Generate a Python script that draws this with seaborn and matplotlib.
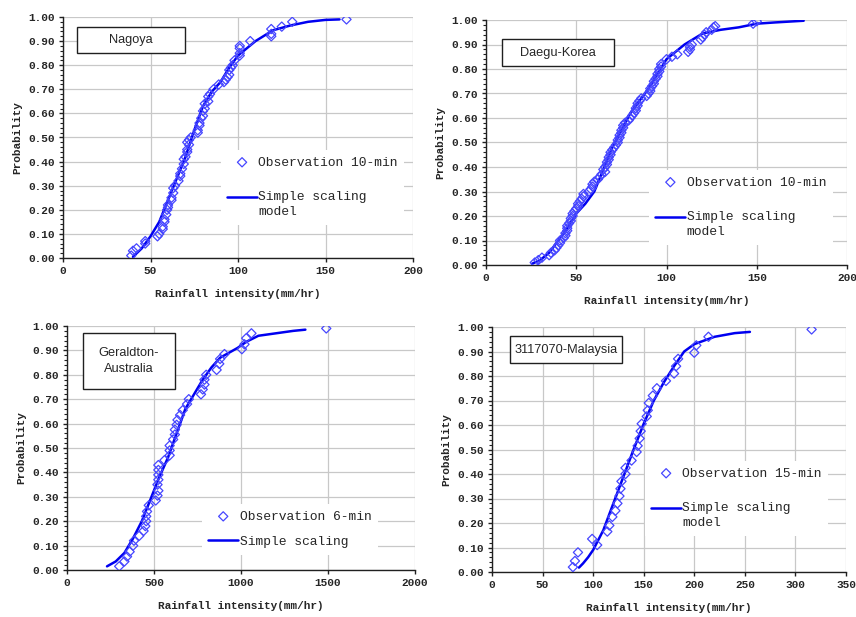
import numpy as np
import pandas as pd
import seaborn as sns
import matplotlib.pyplot as plt
from matplotlib.patches import Rectangle
from matplotlib.ticker import MultipleLocator, FormatStrFormatter
from matplotlib.legend_handler import HandlerLine2D

# ---- Nagoya (10-min) ----
nag_obs_x = [39, 40, 42, 47, 47, 54, 55, 57, 57, 58, 58, 59, 59.5, 60, 60, 62, 62, 63, 63, 64,
             66, 67, 67, 68, 69, 69, 70, 71, 71, 72, 71, 72, 73, 77, 77, 78, 78, 79, 80, 80,
             81, 81, 83, 83, 84, 86, 89, 92, 93, 94, 95, 95, 96, 97, 98, 101, 101, 101, 101, 107,
             119, 119, 119, 125, 131, 162]
nag_obs_p = [0.01, 0.03, 0.04, 0.06, 0.07, 0.09, 0.10, 0.12, 0.13, 0.15, 0.16, 0.18, 0.20, 0.21, 0.22,
             0.24, 0.25, 0.27, 0.29, 0.30, 0.32, 0.34, 0.35, 0.37, 0.39, 0.41, 0.42, 0.44, 0.45, 0.47,
             0.48, 0.49, 0.50, 0.52, 0.53, 0.55, 0.56, 0.58, 0.59, 0.61, 0.62, 0.64, 0.65, 0.67, 0.68,
             0.70, 0.72, 0.73, 0.74, 0.75, 0.76, 0.78, 0.79, 0.80, 0.82, 0.84, 0.85, 0.87, 0.88, 0.90,
             0.92, 0.93, 0.95, 0.96, 0.98, 0.99]
nag_mod_x = [40, 45, 50, 55, 60, 65, 70, 75, 80, 85, 90, 95, 100, 105, 110, 120, 130, 140, 150, 158]
nag_mod_p = [0.005, 0.04, 0.09, 0.15, 0.24, 0.33, 0.42, 0.53, 0.63, 0.69, 0.73, 0.79, 0.84, 0.87,
             0.90, 0.945, 0.965, 0.98, 0.988, 0.99]

# ---- Daegu (10-min) ----
dae_obs_x = [27, 29, 31, 35, 36, 38, 39, 40, 41, 41, 43, 44, 44, 45, 45, 45, 46, 47, 47, 48,
             48, 49, 50, 51, 51, 52, 53, 54, 54, 57, 58, 59, 59, 60, 62, 63, 64, 66, 65, 66,
             67, 67, 68, 68, 69, 69, 70, 71, 72, 73, 73, 74, 74, 75, 75, 76, 76, 77, 79, 80,
             81, 82, 83, 83, 84, 84, 85, 86, 89, 90, 91, 91, 92, 93, 93, 94, 95, 95, 96, 96,
             97, 97, 100, 103, 106, 112, 113, 113, 114, 119, 120, 121, 122, 125, 126, 127, 148, 150]
dae_obs_p = [0.01, 0.02, 0.03, 0.04, 0.05, 0.06, 0.07, 0.08, 0.09, 0.10, 0.11, 0.12, 0.13, 0.14, 0.15,
             0.16, 0.17, 0.18, 0.19, 0.20, 0.21, 0.22, 0.23, 0.24, 0.25, 0.26, 0.27, 0.28, 0.29, 0.30,
             0.31, 0.32, 0.33, 0.34, 0.35, 0.36, 0.37, 0.38, 0.39, 0.40, 0.41, 0.42, 0.43, 0.44, 0.45,
             0.46, 0.47, 0.48, 0.49, 0.50, 0.51, 0.52, 0.53, 0.54, 0.55, 0.56, 0.57, 0.58, 0.59, 0.60,
             0.61, 0.62, 0.63, 0.64, 0.65, 0.66, 0.67, 0.68, 0.69, 0.70, 0.71, 0.72, 0.73, 0.74, 0.75,
             0.76, 0.77, 0.78, 0.79, 0.80, 0.81, 0.82, 0.84, 0.85, 0.86, 0.87, 0.88, 0.89, 0.90, 0.92,
             0.93, 0.94, 0.95, 0.96, 0.97, 0.975, 0.985, 0.995]
dae_mod_x = [25.5, 30, 35, 40, 45, 50, 55, 60, 65, 70, 75, 80, 85, 90, 95, 100, 110, 120, 130, 140,
             150, 160, 176]
dae_mod_p = [0.005, 0.02, 0.05, 0.10, 0.15, 0.21, 0.25, 0.30, 0.39, 0.48, 0.55, 0.62, 0.67, 0.72,
             0.78, 0.84, 0.90, 0.945, 0.96, 0.97, 0.985, 0.99, 0.997]

# ---- Geraldton (6-min) ----
ger_obs_x = [300, 330, 345, 360, 380, 385, 415, 440, 450, 455, 455, 460, 470, 510, 520, 525, 520,
             525, 525, 525, 525, 560, 590, 590, 590, 610, 620, 620, 630, 635, 650, 665, 690, 700,
             770, 780, 790, 790, 800, 860, 875, 880, 905, 1005, 1020, 1030, 1060, 1490]
ger_obs_p = [0.015, 0.035, 0.055, 0.075, 0.10, 0.12, 0.14, 0.16, 0.18, 0.20, 0.22, 0.24, 0.265,
             0.285, 0.305, 0.325, 0.35, 0.37, 0.39, 0.41, 0.43, 0.45, 0.47, 0.49, 0.51, 0.535, 0.555,
             0.575, 0.595, 0.615, 0.635, 0.655, 0.68, 0.70, 0.72, 0.74, 0.76, 0.78, 0.80, 0.82, 0.845,
             0.865, 0.885, 0.905, 0.925, 0.95, 0.97, 0.99]
ger_mod_x = [230, 280, 330, 380, 430, 480, 530, 580, 630, 680, 730, 780, 830, 880, 930, 980, 1030,
             1100, 1200, 1300, 1370]
ger_mod_p = [0.015, 0.035, 0.07, 0.13, 0.20, 0.29, 0.38, 0.46, 0.56, 0.66, 0.72, 0.78, 0.83, 0.87,
             0.89, 0.91, 0.935, 0.96, 0.97, 0.98, 0.985]

# ---- Malaysia 3117070 (15-min) ----
mal_obs_x = [80, 82, 85, 99, 104, 114, 116, 119, 122, 124, 126, 127, 128, 132, 132, 138, 143, 144,
             146, 147, 148, 153, 154, 155, 159, 163, 172, 180, 182, 184, 200, 202, 214, 316]
mal_obs_p = [0.02, 0.045, 0.08, 0.135, 0.11, 0.165, 0.19, 0.225, 0.25, 0.28, 0.31, 0.34, 0.37, 0.40,
             0.425, 0.455, 0.49, 0.515, 0.545, 0.575, 0.605, 0.635, 0.66, 0.69, 0.72, 0.75, 0.78,
             0.81, 0.84, 0.87, 0.895, 0.925, 0.96, 0.99]
mal_mod_x = [86, 90, 95, 100, 110, 120, 130, 140, 150, 160, 170, 180, 190, 200, 220, 240, 255]
mal_mod_p = [0.018, 0.035, 0.06, 0.09, 0.17, 0.28, 0.39, 0.50, 0.605, 0.70, 0.775, 0.84, 0.90, 0.93,
             0.96, 0.975, 0.98]

panels = [
    dict(name="Nagoya", obs=(nag_obs_x, nag_obs_p), mod=(nag_mod_x, nag_mod_p),
         obs_label="Observation 10-min", mod_label="Simple scaling\nmodel",
         xmax=200, xstep=50, rect=[63, 17, 413, 258],
         box=(0.04, 0.85, 0.309, 0.108), leg=(0.45, 0.448)),
    dict(name="Daegu-Korea", obs=(dae_obs_x, dae_obs_p), mod=(dae_mod_x, dae_mod_p),
         obs_label="Observation 10-min", mod_label="Simple scaling\nmodel",
         xmax=200, xstep=50, rect=[486, 20, 847, 265],
         box=(0.044, 0.812, 0.311, 0.11), leg=(0.451, 0.388)),
    dict(name="Geraldton-\nAustralia", obs=(ger_obs_x, ger_obs_p), mod=(ger_mod_x, ger_mod_p),
         obs_label="Observation 6-min", mod_label="Simple scaling",
         xmax=2000, xstep=500, rect=[67, 326, 415, 570],
         box=(0.046, 0.742, 0.264, 0.229), leg=(0.387, 0.27)),
    dict(name="3117070-Malaysia", obs=(mal_obs_x, mal_obs_p), mod=(mal_mod_x, mal_mod_p),
         obs_label="Observation 15-min", mod_label="Simple scaling\nmodel",
         xmax=350, xstep=50, rect=[492, 327, 846, 572],
         box=(0.051, 0.853, 0.316, 0.11), leg=(0.431, 0.453)),
]


class FirstLineHandler(HandlerLine2D):
    # put the legend line level with the first text line of a two-line label
    def create_artists(self, legend, orig_handle, xdescent, ydescent, width, height,
                       fontsize, trans):
        arts = super().create_artists(legend, orig_handle, xdescent, ydescent, width,
                                      height, fontsize, trans)
        for a in arts:
            a.set_ydata([y + 0.58 * fontsize for y in a.get_ydata()])
        return arts


sns.set_style("white")
plt.rcParams['font.family'] = ['Liberation Mono', 'DejaVu Sans Mono']

W, H = 856, 617
fig = plt.figure(figsize=(W / 100, H / 100), dpi=100)

for p in panels:
    l, t, r, b = p["rect"]
    ax = fig.add_axes([l / W, (H - b) / H, (r - l) / W, (b - t) / H])

    obs = pd.DataFrame({"x": p["obs"][0], "p": p["obs"][1]})
    mod = pd.DataFrame({"x": p["mod"][0], "p": p["mod"][1]})
    sns.lineplot(data=mod, x="x", y="p", ax=ax, color="#0000f0", linewidth=1.8,
                 label=p["mod_label"], zorder=3, sort=False)
    sns.scatterplot(data=obs, x="x", y="p", ax=ax, marker="D", s=22,
                    facecolor="none", edgecolor="#4646ff", linewidth=0.9,
                    label=p["obs_label"], zorder=4)

    ax.set_xlim(0, p["xmax"])
    ax.set_ylim(0, 1)
    ax.xaxis.set_major_locator(MultipleLocator(p["xstep"]))
    ax.yaxis.set_major_locator(MultipleLocator(0.1))
    ax.yaxis.set_minor_locator(MultipleLocator(0.02))
    ax.yaxis.set_major_formatter(FormatStrFormatter("%.2f"))
    ax.grid(True, which="major", color="#c8c8c8", linewidth=0.9)
    ax.set_axisbelow(True)
    for s in ["top", "right"]:
        ax.spines[s].set_visible(False)
    for s in ["left", "bottom"]:
        ax.spines[s].set_color("#202020")
        ax.spines[s].set_linewidth(1.0)
    ax.tick_params(axis="both", which="major", direction="out", length=3, width=1,
                   color="#202020", labelsize=8, pad=3, left=True, bottom=True)
    ax.tick_params(axis="y", which="minor", direction="out", length=2, width=0.8,
                   color="#202020", left=True)
    for lab in ax.get_xticklabels() + ax.get_yticklabels():
        lab.set_fontweight("bold")

    ax.set_xlabel("Rainfall intensity(mm/hr)", fontsize=8, fontweight="bold", labelpad=9)
    ax.set_ylabel("Probability", fontsize=8, fontweight="bold", labelpad=4)

    # station name box
    bx, by, bw, bh = p["box"]
    ax.add_patch(Rectangle((bx, by), bw, bh, transform=ax.transAxes, facecolor="white",
                           edgecolor="#202020", linewidth=1.0, zorder=5))
    ax.text(bx + bw / 2, by + bh / 2, p["name"], transform=ax.transAxes, ha="center",
            va="center", fontsize=9.2, family="Liberation Sans", zorder=6, linespacing=1.4)

    handles, labels = ax.get_legend_handles_labels()
    two_line = "\n" in p["mod_label"]
    hmap = {handles[0]: FirstLineHandler()} if two_line else {}
    leg = ax.legend(handles[::-1], labels[::-1], loc="upper left", bbox_to_anchor=p["leg"],
                    frameon=True, facecolor="white", edgecolor="none", framealpha=1,
                    fancybox=False, fontsize=9.4, handlelength=2.3, handletextpad=0.1,
                    labelspacing=1.7 if two_line else 1.0, borderpad=0.5, borderaxespad=0,
                    handler_map=hmap)
    for txt in leg.get_texts():
        txt.set_linespacing(1.4)
    leg.set_zorder(5)

fig.savefig("out.png", dpi=100)
